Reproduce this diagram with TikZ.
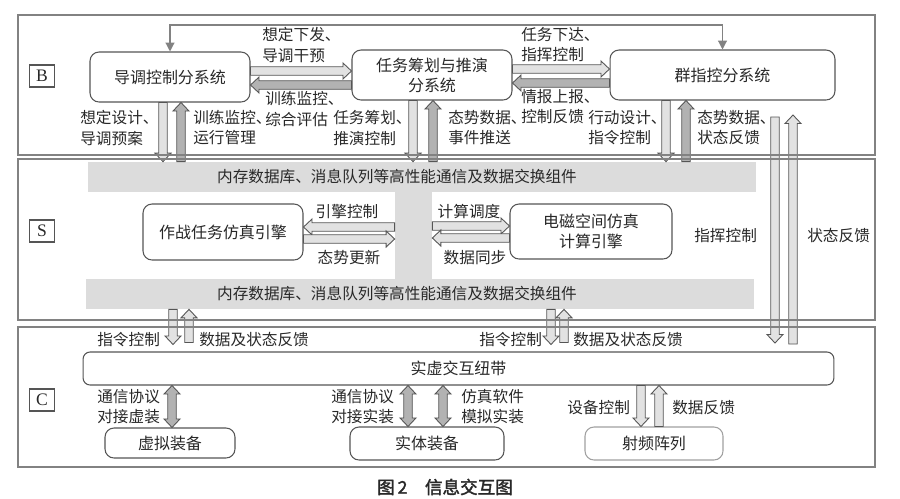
\documentclass[tikz,border=0pt]{standalone}
\usepackage{fontspec}
\setmainfont{Liberation Serif}
\newfontfamily\cjk{Noto Sans CJK SC}
\newfontfamily\cjkbold{Noto Sans CJK SC}[FakeBold=2]
\usepackage{xcolor}
\usetikzlibrary{
  calc,
  arrows.meta
}
\definecolor{framegray}{RGB}{130,130,130}
\definecolor{nodegray}{RGB}{85,85,85}
\definecolor{lightframe}{RGB}{160,160,160}
\definecolor{barfill}{RGB}{220,220,220}
\definecolor{arrlight}{RGB}{226,226,226}
\definecolor{arrdark}{RGB}{178,178,178}
\definecolor{txtgray}{RGB}{40,40,40}

% hollow block arrow, one head / two heads
\def\fahw{0.085cm}
\def\fahh{0.16cm}
\def\fahl{0.17cm}
\newcommand{\fatarrow}[3][fatlt]{%
  \path #2 coordinate (fa-s) #3 coordinate (fa-e);
  \path ($(fa-e)!\fahl!(fa-s)$) coordinate (fa-h);
  \filldraw[#1] ($(fa-s)!\fahw!90:(fa-e)$) -- ($(fa-h)!\fahw!90:(fa-e)$)
    -- ($(fa-h)!\fahh!90:(fa-e)$) -- (fa-e) -- ($(fa-h)!\fahh!-90:(fa-e)$)
    -- ($(fa-h)!\fahw!-90:(fa-e)$) -- ($(fa-s)!\fahw!-90:(fa-e)$) -- cycle;
}
\newcommand{\dblarrow}[3][fatdk]{%
  \path #2 coordinate (fa-s) #3 coordinate (fa-e);
  \path ($(fa-s)!\fahl!(fa-e)$) coordinate (fa-g)
        ($(fa-e)!\fahl!(fa-s)$) coordinate (fa-h);
  \filldraw[#1] (fa-s) -- ($(fa-g)!\fahh!90:(fa-e)$) -- ($(fa-g)!\fahw!90:(fa-e)$)
    -- ($(fa-h)!\fahw!90:(fa-e)$) -- ($(fa-h)!\fahh!90:(fa-e)$) -- (fa-e)
    -- ($(fa-h)!\fahh!-90:(fa-e)$) -- ($(fa-h)!\fahw!-90:(fa-e)$)
    -- ($(fa-g)!\fahw!-90:(fa-e)$) -- ($(fa-g)!\fahh!-90:(fa-e)$) -- cycle;
}

\begin{document}
\begin{tikzpicture}[
  x=0.02cm, y=-0.02cm,
  sysbox/.style={draw=nodegray, fill=white, rounded corners=0.18cm,
                 minimum height=1cm, line width=0.6pt, align=center,
                 text=txtgray, font=\cjk\fontsize{9.1}{11.4}\selectfont},
  lbl/.style={inner sep=0pt, align=left, text=txtgray,
              font=\cjk\fontsize{8.9}{11.4}\selectfont},
  tag/.style={draw=nodegray, line width=0.6pt, minimum width=0.5cm,
              minimum height=0.44cm, inner sep=0pt, text=txtgray,
              font=\fontsize{10}{12}\selectfont},
  bar/.style={fill=barfill, minimum height=0.6cm, inner sep=0pt},
  frame/.style={draw=framegray, line width=0.8pt},
  fatlt/.style={draw=nodegray, fill=arrlight, line width=0.5pt},
  fatdk/.style={draw=nodegray, fill=arrdark, line width=0.5pt},
  fbline/.style={draw=framegray, line width=0.7pt,
                 {Triangle[width=5pt,length=5pt]}-{Triangle[width=5pt,length=5pt]}},
]
\useasboundingbox (0,0) rectangle (900,498);

% B layer
\node[sysbox, minimum width=3.2cm] (dtk) at (170,77) {导调控制分系统};
\node[sysbox, minimum width=3.2cm] (rwc) at (432,75) {任务筹划与推演\\分系统};
\node[sysbox, minimum width=4.5cm] (qzk) at (722.5,75) {群指控分系统};

% S layer
\node[bar, minimum width=13.36cm] (topbar) at (422,177) {};
\node[bar, minimum width=13.36cm] (botbar) at (420,294) {};
\node[bar, minimum width=0.74cm, minimum height=1.76cm] (midcol) at (413.5,235.5) {};
\node[lbl] (toptxt) at (397,177) {内存数据库、消息队列等高性能通信及数据交换组件};
\node[lbl] (bottxt) at (397,294) {内存数据库、消息队列等高性能通信及数据交换组件};
\node[sysbox, minimum width=3.2cm, minimum height=1.12cm] (zzyq) at (223,232) {作战任务仿真引擎};
\node[sysbox, minimum width=3.24cm, minimum height=1.1cm] (dcyq) at (591,231.5) {电磁空间仿真\\计算引擎};

% C layer
\node[sysbox, minimum width=15.02cm, minimum height=0.66cm, rounded corners=0.14cm] (sxnd) at (458.5,368.5) {实虚交互纽带};
\node[sysbox, minimum width=2.6cm, minimum height=0.6cm] (xnzb) at (170,443) {虚拟装备};
\node[sysbox, minimum width=3.08cm, minimum height=0.66cm] (stzb) at (427,443.5) {实体装备};
\node[sysbox, draw=lightframe, minimum width=2.76cm, minimum height=0.66cm] (sppl) at (654,443.5) {射频阵列};

% feedback line on top
\draw[fbline] (dtk.north) -- (dtk.north |- 0,25) -| (qzk.north);

% B arrows
\fatarrow{(dtk.east |- 0,71)}{(rwc.west |- 0,71)}
\fatarrow[fatdk]{(rwc.west |- 0,85)}{(dtk.east |- 0,85)}
\fatarrow{(rwc.east |- 0,69)}{(qzk.west |- 0,69)}
\fatarrow[fatdk]{(qzk.west |- 0,83)}{(rwc.east |- 0,83)}
\fatarrow{(dtk.south -| 163,0)}{(topbar.north -| 163,0)}
\fatarrow[fatdk]{(topbar.north -| 181,0)}{(dtk.south -| 181,0)}
\fatarrow{(rwc.south -| 413,0)}{(topbar.north -| 413,0)}
\fatarrow[fatdk]{(topbar.north -| 433,0)}{(rwc.south -| 433,0)}
\fatarrow{(qzk.south -| 666,0)}{(topbar.north -| 666,0)}
\fatarrow[fatdk]{(topbar.north -| 686,0)}{(qzk.south -| 686,0)}

\node[lbl, anchor=west] (l1) at (262,45) {想定下发、\\导调干预};
\node[lbl, anchor=west] (l2) at (265,109) {训练监控、\\综合评估};
\node[lbl, anchor=west] (l3) at (521,45) {任务下达、\\指挥控制};
\node[lbl, anchor=west] (l4) at (521,107) {情报上报、\\控制反馈};
\node[lbl, anchor=west] (l5) at (80,128) {想定设计、\\导调预案};
\node[lbl, anchor=west] (l6) at (193,128) {训练监控、\\运行管理};
\node[lbl, anchor=west] (l7) at (333,128) {任务筹划、\\推演控制};
\node[lbl, anchor=west] (l8) at (448,128) {态势数据、\\事件推送};
\node[lbl, anchor=west] (l9) at (588,128) {行动设计、\\指令控制};
\node[lbl, anchor=west] (l10) at (697,128) {态势数据、\\状态反馈};

% long arrows B <-> C
\coordinate (zhtop) at (775,117);
\coordinate (zhbot) at (775,343);
\coordinate (fktop) at (793,115);
\coordinate (fkbot) at (793,344);
\fatarrow{(zhtop)}{(zhbot)}
\fatarrow{(fkbot)}{(fktop)}
\node[lbl, anchor=west] (l11) at (694,236) {指挥控制};
\node[lbl, anchor=west] (l12) at (807,236) {状态反馈};

% S arrows
\fatarrow{(midcol.west |- 0,227)}{(zzyq.east |- 0,227)}
\fatarrow{(zzyq.east |- 0,239)}{(midcol.west |- 0,239)}
\fatarrow{(midcol.east |- 0,226)}{(dcyq.west |- 0,226)}
\fatarrow{(dcyq.west |- 0,238)}{(midcol.east |- 0,238)}
\node[lbl] (l13) at (347,212) {引擎控制};
\node[lbl] (l14) at (349,258) {态势更新};
\node[lbl] (l15) at (469,212) {计算调度};
\node[lbl] (l16) at (475,258) {数据同步};

% S -> C arrows
\fatarrow{(botbar.south -| 173,0)}{($(sxnd.north -| 173,0)+(0,-7)$)}
\fatarrow{($(sxnd.north -| 189,0)+(0,-9)$)}{(botbar.south -| 189,0)}
\fatarrow{(botbar.south -| 551,0)}{($(sxnd.north -| 551,0)+(0,-7)$)}
\fatarrow{($(sxnd.north -| 564,0)+(0,-9)$)}{(botbar.south -| 564,0)}
\node[lbl, anchor=west] (l17) at (97,340) {指令控制};
\node[lbl, anchor=west] (l18) at (199,340) {数据及状态反馈};
\node[lbl, anchor=west] (l19) at (479,340) {指令控制};
\node[lbl, anchor=west] (l20) at (573,340) {数据及状态反馈};

% C arrows
\dblarrow{(sxnd.south -| 172,0)}{(xnzb.north -| 172,0)}
\dblarrow{(sxnd.south -| 408,0)}{(stzb.north -| 408,0)}
\dblarrow{(sxnd.south -| 443,0)}{(stzb.north -| 443,0)}
\fatarrow{(sxnd.south -| 641,0)}{(sppl.north -| 641,0)}
\fatarrow{(sppl.north -| 659,0)}{(sxnd.south -| 659,0)}
\node[lbl, anchor=west] (l21) at (97,407) {通信协议\\对接虚装};
\node[lbl, anchor=west] (l22) at (331,407) {通信协议\\对接实装};
\node[lbl, anchor=west] (l23) at (461,407) {仿真软件\\模拟实装};
\node[lbl, anchor=west] (l24) at (567,408) {设备控制};
\node[lbl, anchor=west] (l25) at (672,408) {数据反馈};

% layer frames last, lines pass over the arrows
\draw[frame] (18,15) rectangle (875,155);
\draw[frame] (18,159) rectangle (875,320);
\draw[frame] (18,327) rectangle (875,467);
\node[tag] (tagB) at (42,76) {B};
\node[tag] (tagS) at (42,231) {S};
\node[tag] (tagC) at (42,400) {C};

\node[text=txtgray, font=\cjkbold\fontsize{10}{12}\selectfont] (cap) at (445,487) {图\,2\quad 信息交互图};
\end{tikzpicture}
\end{document}
